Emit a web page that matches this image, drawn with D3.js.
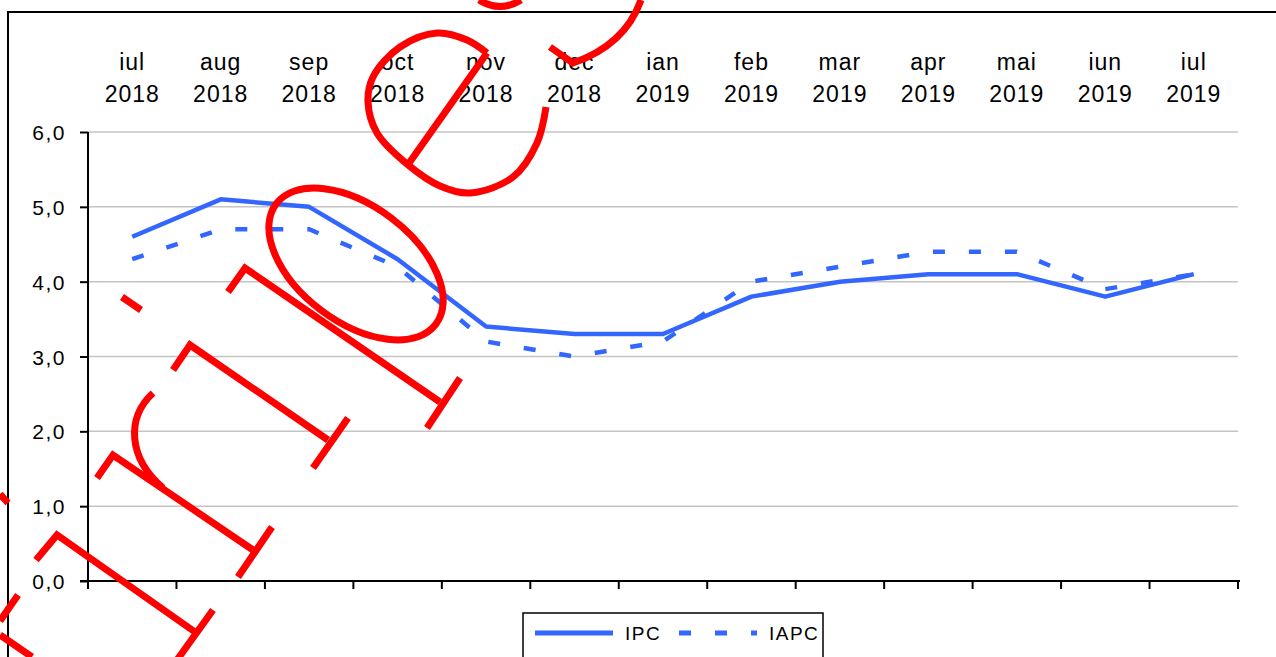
<!DOCTYPE html>
<html>
<head>
<meta charset="utf-8">
<script src="https://cdn.jsdelivr.net/npm/d3@7"></script>
<style>
  body { margin: 0; background: #fff; }
  text { font-family: "Liberation Sans", Arial, sans-serif; fill: #000; letter-spacing: 1.5px; }
</style>
</head>
<body>
<svg id="chart"></svg>
<script>
// date
var luni = ["iul", "aug", "sep", "oct", "nov", "dec", "ian", "feb", "mar", "apr", "mai", "iun", "iul"];
var ani = ["2018", "2018", "2018", "2018", "2018", "2018", "2019", "2019", "2019", "2019", "2019", "2019", "2019"];
var ipc = [4.6, 5.1, 5.0, 4.3, 3.4, 3.3, 3.3, 3.8, 4.0, 4.1, 4.1, 3.8, 4.1];
var iapc = [4.3, 4.7, 4.7, 4.2, 3.2, 3.0, 3.2, 4.0, 4.2, 4.4, 4.4, 3.9, 4.1];
var yTicks = [0, 1, 2, 3, 4, 5, 6];
var serii = ["IPC", "IAPC"];

var W = 1276, H = 657;
var albastru = "#3366ff";

var svg = d3.select("#chart").attr("width", W).attr("height", H);

// chenarul exterior
svg.append("rect")
    .attr("x", 8).attr("y", 12)
    .attr("width", 1400).attr("height", 800)
    .attr("fill", "none").attr("stroke", "#000").attr("stroke-width", 2);

var idx = d3.range(luni.length);

var x = d3.scaleBand()
    .domain(idx)
    .range([88, 1238]);

var y = d3.scaleLinear()
    .domain([0, 6])
    .range([581, 132]);

var cx = function(i) { return x(i) + x.bandwidth() / 2; };

// linii de grila
svg.append("g")
    .selectAll("line")
    .data(yTicks.filter(function(d) { return d > 0; }))
    .enter()
    .append("line")
    .attr("x1", 88).attr("x2", 1238)
    .attr("y1", function(d) { return y(d); })
    .attr("y2", function(d) { return y(d); })
    .attr("stroke", "#c4c4c4").attr("stroke-width", 1.5);

// axa Y
var yAxis = d3.axisLeft(y)
    .tickValues(yTicks)
    .tickSize(8)
    .tickPadding(14)
    .tickFormat(function(d) { return d.toFixed(1).replace(".", ","); });

var gy = svg.append("g")
    .attr("transform", "translate(88,0)")
    .call(yAxis);
gy.select(".domain").attr("stroke", "#000").attr("stroke-width", 2).attr("d", "M0," + y(6) + "V" + y(0));
gy.selectAll(".tick line").attr("stroke", "#000").attr("stroke-width", 2);
gy.selectAll(".tick text")
    .style("font-family", "'Liberation Sans', Arial, sans-serif")
    .style("font-size", "21px")
    .attr("fill", "#000")
    .attr("dy", "0.36em");

// axa X (doar linia si gradatiile dintre categorii)
var granite = idx.map(function(i) { return x(i); }).concat([x.range()[1]]);
svg.append("line")
    .attr("x1", 80).attr("x2", 1240)
    .attr("y1", y(0)).attr("y2", y(0))
    .attr("stroke", "#000").attr("stroke-width", 2);
svg.append("g")
    .selectAll("line")
    .data(granite)
    .enter()
    .append("line")
    .attr("x1", function(d) { return d; })
    .attr("x2", function(d) { return d; })
    .attr("y1", y(0)).attr("y2", y(0) + 8)
    .attr("stroke", "#000").attr("stroke-width", 2);

// etichete categorii sus
var et = svg.append("g")
    .selectAll("text")
    .data(idx)
    .enter()
    .append("text")
    .attr("text-anchor", "middle")
    .style("font-size", "23px")
    .style("letter-spacing", "1px");
et.append("tspan")
    .attr("x", function(i) { return cx(i); })
    .attr("y", 70)
    .text(function(i) { return luni[i]; });
et.append("tspan")
    .attr("x", function(i) { return cx(i); })
    .attr("y", 102)
    .text(function(i) { return ani[i]; });

// liniile seriilor
var linie = d3.line()
    .x(function(d, i) { return cx(i); })
    .y(function(d) { return y(d); });

svg.append("path")
    .datum(iapc)
    .attr("d", linie)
    .attr("fill", "none")
    .attr("stroke", albastru)
    .attr("stroke-width", 4.5)
    .attr("stroke-dasharray", "12,24");

svg.append("path")
    .datum(ipc)
    .attr("d", linie)
    .attr("fill", "none")
    .attr("stroke", albastru)
    .attr("stroke-width", 4.5)
    .attr("stroke-linejoin", "round");

// legenda
var leg = svg.append("g");
leg.append("rect")
    .attr("x", 523).attr("y", 613)
    .attr("width", 300).attr("height", 80)
    .attr("fill", "#fff").attr("stroke", "#000").attr("stroke-width", 1.5);

var legX = [535, 679];
serii.forEach(function(s, k) {
    leg.append("line")
        .attr("x1", legX[k]).attr("x2", legX[k] + 78)
        .attr("y1", 633).attr("y2", 633)
        .attr("stroke", albastru)
        .attr("stroke-width", 5)
        .attr("stroke-dasharray", k === 1 ? "12,24" : null);
    leg.append("text")
        .attr("x", legX[k] + 90)
        .attr("y", 640)
        .style("font-size", "19px")
        .text(s);
});

// adnotarea rosie desenata peste grafic
var mazgaleala = [
    "M0,494 L8,503",
    "M18,595 L0,621",
    "M0,635 L32,657",
    "M36,560 L57,535 L195,632",
    "M213,610 L177,660",
    "M97,478 L113,455 L253,550",
    "M272,527 L238,577",
    "M153,393 C126,418 128,458 163,488",
    "M173,370 L190,345 L328,440",
    "M348,418 L313,468",
    "M228,292 L245,268 L440,402",
    "M460,378 L427,428",
    "M122,297 L141,310",
    "M407,166 L487,53",
    "M550,47 L573,63 Q625,45 641,0",
    "M479,0 Q500,13 521,0"
];
var bucla = [[487, 53], [467, 40], [437, 33], [400, 47], [373, 77], [368, 102], [377, 133], [407, 164], [440, 186], [470, 193], [513, 177], [537, 143], [546, 107]];

var rosu = svg.append("g")
    .attr("fill", "none")
    .attr("stroke", "#ff0000")
    .attr("stroke-width", 7);
rosu.selectAll("path.m")
    .data(mazgaleala)
    .enter()
    .append("path")
    .attr("class", "m")
    .attr("d", function(d) { return d; });
rosu.append("path")
    .datum(bucla)
    .attr("d", d3.line().curve(d3.curveCatmullRom));
rosu.append("ellipse")
    .attr("cx", 0).attr("cy", 0)
    .attr("rx", 100).attr("ry", 58)
    .attr("transform", "translate(356,264) rotate(37)");
</script>
</body>
</html>
